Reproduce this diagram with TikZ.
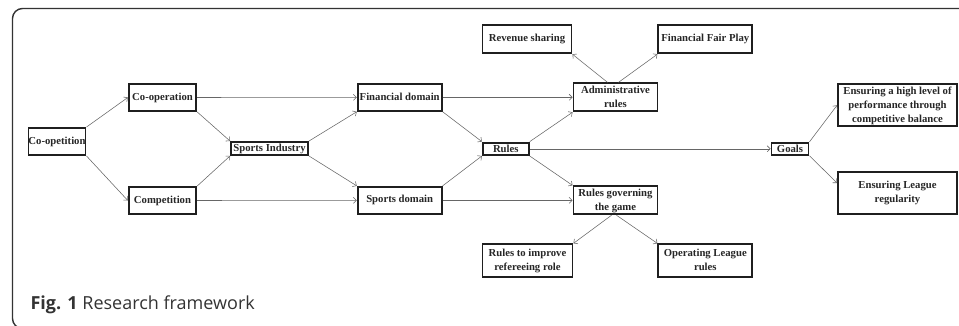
\documentclass[tikz,border=0pt]{standalone}
\usepackage{fontspec}
\usetikzlibrary{arrows.meta}
\setmainfont{Liberation Serif}
\newfontfamily\capfont{Open Sans}
\setlength{\tabcolsep}{0pt}

\tikzset{
	blk/.style={draw=black!88, line width=1.9pt, inner sep=0pt, text=black!85, font=\fontsize{10.7}{14}\selectfont\bfseries},
	arr/.style={-{Straight Barb[length=3pt,width=6pt]}, draw=black!60, line width=0.55pt}
}

\begin{document}
\begin{tikzpicture}[x=1pt,y=-1pt]
	\useasboundingbox (0,0) rectangle (959,325);
	
	\begin{scope}
	\clip (0,0) rectangle (959,325);
	\draw[black!80, line width=1.4pt, rounded corners=10pt] (12.5,8.5) rectangle (985,328.5);
	\end{scope}
	
	\node[blk, minimum width=56pt, minimum height=27pt] (coop) at (57,141.5) {Co-opetition};
	
	\node[blk, minimum width=67.5pt, minimum height=27pt] (coopr) at (162.5,97.5) {Co-operation};
	\node[blk, minimum width=67.5pt, minimum height=27pt] (comp) at (162.5,200.5) {Competition};
	
	\node[blk, minimum width=77pt, minimum height=13pt] (ind) at (269.5,148.5) {Sports Industry};
	
	\node[blk, minimum width=84pt, minimum height=27pt] (fin) at (399.7,97.3) {Financial domain};
	\node[blk, minimum width=84pt, minimum height=27pt] (spd) at (399.7,200.3) {Sports domain};
	
	\node[blk, minimum width=46pt, minimum height=12.5pt] (rul) at (505.8,148.8) {Rules};
	
	\node[blk, minimum width=89pt, minimum height=28pt] (rev) at (527,39.3) {Revenue sharing};
	\node[blk, minimum width=84pt, minimum height=27pt] (adm) at (615.5,97.3) {\begin{tabular}{c}Administrative\\ rules\end{tabular}};
	\node[blk, minimum width=94pt, minimum height=28pt] (ffp) at (705.3,39.3) {Financial Fair Play};
	
	\node[blk, minimum width=84pt, minimum height=27pt] (rgov) at (615.5,200.3) {\begin{tabular}{c}Rules governing\\ the game\end{tabular}};
	\node[blk, minimum width=90pt, minimum height=33pt] (rimp) at (527.5,260.8) {\begin{tabular}{c}Rules to improve\\ refereeing role\end{tabular}};
	\node[blk, minimum width=94pt, minimum height=33pt] (oper) at (705.3,260.8) {\begin{tabular}{c}Operating League\\ rules\end{tabular}};
	
	\node[blk, minimum width=37pt, minimum height=12pt] (goal) at (790,148.8) {Goals};
	
	\node[blk, minimum width=119pt, minimum height=42pt] (ens1) at (897.5,105.3) {\begin{tabular}{c}Ensuring a high level of\\ performance through\\ competitive balance\end{tabular}};
	\node[blk, minimum width=119pt, minimum height=42pt] (ens2) at (897.5,193) {\begin{tabular}{c}Ensuring League\\ regularity\end{tabular}};
	
	\draw[arr] (coop.north east) -- (coopr.west);
	\draw[arr] (coop.south east) -- (comp.west);
	\draw[arr] (coopr.south east) -- (ind.north west);
	\draw[arr] (comp.north east) -- (ind.south west);
	\draw[arr] (coopr.east) -- (fin.west);
	\draw[arr] (comp.east) -- (spd.west);
	\draw[arr] (ind.north east) -- (fin.south west);
	\draw[arr] (ind.south east) -- (spd.north west);
	\draw[arr] (fin.south east) -- (rul.north west);
	\draw[arr] (spd.north east) -- (rul.south west);
	\draw[arr] (fin.east) -- (adm.west);
	\draw[arr] (spd.east) -- (rgov.west);
	\draw[arr] (rul.north east) -- (adm.south west);
	\draw[arr] (rul.south east) -- (rgov.north west);
	\draw[arr] (rul.east) -- (goal.west);
	\draw[arr] ([xshift=-8pt]adm.north) -- (rev.south east);
	\draw[arr] ([xshift=3pt]adm.north) -- (ffp.south west);
	\draw[arr] ([xshift=-4pt]rgov.south) -- (rimp.north east);
	\draw[arr] ([xshift=1pt]rgov.south) -- (oper.north west);
	\draw[arr] (goal.north east) -- (ens1.west);
	\draw[arr] (goal.south east) -- ([yshift=10pt]ens2.west);
	
	\node[anchor=base west, text=black!80, font=\capfont\fontsize{18}{20}\selectfont] (cap) at (27,309) {\textbf{Fig. 1} Research framework};
\end{tikzpicture}
\end{document}
